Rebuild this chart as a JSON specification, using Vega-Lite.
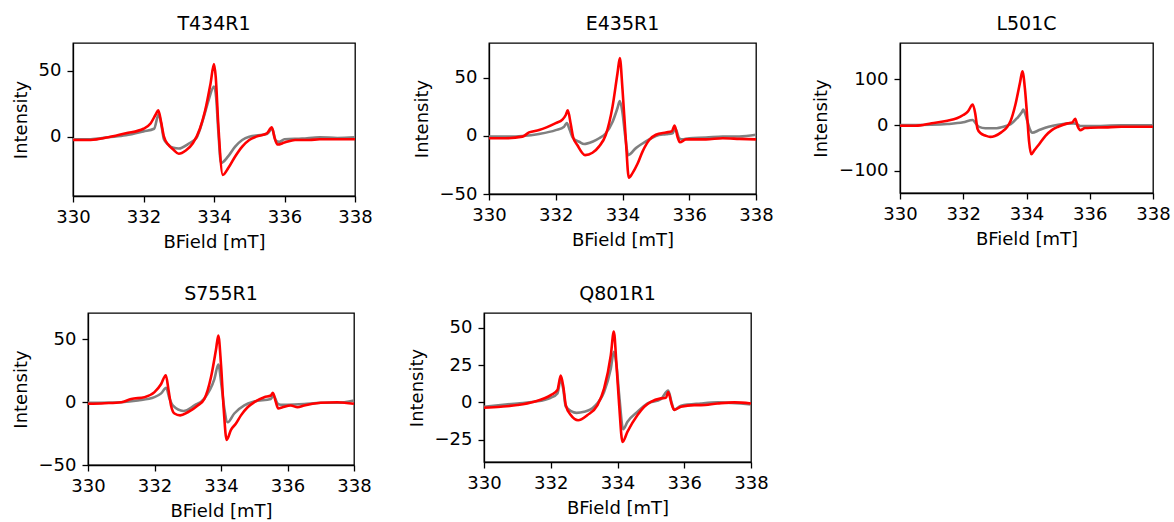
{
 "$schema": "https://vega.github.io/schema/vega-lite/v6.json",
 "padding": {"left": 11, "top": 14, "right": 2, "bottom": 0},
 "datasets": {"d": [
  {"p":"T434R1","s":"g","x":330,"y":-2},{"p":"T434R1","s":"g","x":330.5,"y":-2},{"p":"T434R1","s":"g","x":331,"y":-0.5},{"p":"T434R1","s":"g","x":331.5,"y":1},{"p":"T434R1","s":"g","x":332,"y":4},{"p":"T434R1","s":"g","x":332.3,"y":6},{"p":"T434R1","s":"g","x":332.43,"y":17},{"p":"T434R1","s":"g","x":332.5,"y":10},{"p":"T434R1","s":"g","x":332.58,"y":-2},{"p":"T434R1","s":"g","x":332.7,"y":-6},{"p":"T434R1","s":"g","x":332.85,"y":-8.5},{"p":"T434R1","s":"g","x":333.0,"y":-9},{"p":"T434R1","s":"g","x":333.3,"y":-5},{"p":"T434R1","s":"g","x":333.5,"y":-1},{"p":"T434R1","s":"g","x":333.7,"y":14},{"p":"T434R1","s":"g","x":333.85,"y":28},{"p":"T434R1","s":"g","x":334.0,"y":38},{"p":"T434R1","s":"g","x":334.06,"y":30},{"p":"T434R1","s":"g","x":334.12,"y":5},{"p":"T434R1","s":"g","x":334.2,"y":-20},{"p":"T434R1","s":"g","x":334.4,"y":-15},{"p":"T434R1","s":"g","x":334.6,"y":-7.5},{"p":"T434R1","s":"g","x":334.8,"y":-2.5},{"p":"T434R1","s":"g","x":335.0,"y":0},{"p":"T434R1","s":"g","x":335.5,"y":2},{"p":"T434R1","s":"g","x":335.65,"y":6},{"p":"T434R1","s":"g","x":335.75,"y":-3},{"p":"T434R1","s":"g","x":335.85,"y":-4},{"p":"T434R1","s":"g","x":336.0,"y":-2},{"p":"T434R1","s":"g","x":336.5,"y":-1.5},{"p":"T434R1","s":"g","x":337,"y":-0.5},{"p":"T434R1","s":"g","x":337.5,"y":-1},{"p":"T434R1","s":"g","x":338,"y":-0.5},
  {"p":"T434R1","s":"r","x":330,"y":-2.5},{"p":"T434R1","s":"r","x":330.5,"y":-2.5},{"p":"T434R1","s":"r","x":331,"y":-0.5},{"p":"T434R1","s":"r","x":331.5,"y":2.5},{"p":"T434R1","s":"r","x":332,"y":6},{"p":"T434R1","s":"r","x":332.2,"y":10},{"p":"T434R1","s":"r","x":332.35,"y":17},{"p":"T434R1","s":"r","x":332.42,"y":20},{"p":"T434R1","s":"r","x":332.5,"y":11},{"p":"T434R1","s":"r","x":332.58,"y":0},{"p":"T434R1","s":"r","x":332.7,"y":-6},{"p":"T434R1","s":"r","x":332.85,"y":-10},{"p":"T434R1","s":"r","x":333.0,"y":-13},{"p":"T434R1","s":"r","x":333.2,"y":-10.5},{"p":"T434R1","s":"r","x":333.4,"y":-5},{"p":"T434R1","s":"r","x":333.6,"y":6},{"p":"T434R1","s":"r","x":333.75,"y":20},{"p":"T434R1","s":"r","x":333.9,"y":40},{"p":"T434R1","s":"r","x":334.0,"y":55},{"p":"T434R1","s":"r","x":334.05,"y":45},{"p":"T434R1","s":"r","x":334.12,"y":10},{"p":"T434R1","s":"r","x":334.25,"y":-29},{"p":"T434R1","s":"r","x":334.4,"y":-24},{"p":"T434R1","s":"r","x":334.6,"y":-15},{"p":"T434R1","s":"r","x":334.8,"y":-7.5},{"p":"T434R1","s":"r","x":335.0,"y":-2.5},{"p":"T434R1","s":"r","x":335.2,"y":0},{"p":"T434R1","s":"r","x":335.5,"y":2.5},{"p":"T434R1","s":"r","x":335.64,"y":7},{"p":"T434R1","s":"r","x":335.72,"y":-1},{"p":"T434R1","s":"r","x":335.8,"y":-6},{"p":"T434R1","s":"r","x":336.0,"y":-4.5},{"p":"T434R1","s":"r","x":336.3,"y":-2.5},{"p":"T434R1","s":"r","x":336.7,"y":-2.5},{"p":"T434R1","s":"r","x":337,"y":-2},{"p":"T434R1","s":"r","x":337.5,"y":-2},{"p":"T434R1","s":"r","x":338,"y":-2},

  {"p":"E435R1","s":"g","x":330,"y":-0.5},{"p":"E435R1","s":"g","x":330.5,"y":-0.5},{"p":"E435R1","s":"g","x":331,"y":0},{"p":"E435R1","s":"g","x":331.5,"y":1.7},{"p":"E435R1","s":"g","x":332,"y":5},{"p":"E435R1","s":"g","x":332.25,"y":8},{"p":"E435R1","s":"g","x":332.33,"y":11},{"p":"E435R1","s":"g","x":332.42,"y":5},{"p":"E435R1","s":"g","x":332.52,"y":-2},{"p":"E435R1","s":"g","x":332.7,"y":-5},{"p":"E435R1","s":"g","x":332.85,"y":-7},{"p":"E435R1","s":"g","x":333.1,"y":-5},{"p":"E435R1","s":"g","x":333.3,"y":-2},{"p":"E435R1","s":"g","x":333.5,"y":2.3},{"p":"E435R1","s":"g","x":333.7,"y":12},{"p":"E435R1","s":"g","x":333.85,"y":24},{"p":"E435R1","s":"g","x":333.92,"y":30},{"p":"E435R1","s":"g","x":334.0,"y":20},{"p":"E435R1","s":"g","x":334.08,"y":0},{"p":"E435R1","s":"g","x":334.17,"y":-16.5},{"p":"E435R1","s":"g","x":334.4,"y":-10.5},{"p":"E435R1","s":"g","x":334.6,"y":-6.5},{"p":"E435R1","s":"g","x":334.8,"y":-3},{"p":"E435R1","s":"g","x":335.0,"y":0},{"p":"E435R1","s":"g","x":335.3,"y":1.5},{"p":"E435R1","s":"g","x":335.5,"y":2.3},{"p":"E435R1","s":"g","x":335.58,"y":6.5},{"p":"E435R1","s":"g","x":335.7,"y":-2},{"p":"E435R1","s":"g","x":335.78,"y":-3},{"p":"E435R1","s":"g","x":336.0,"y":-2},{"p":"E435R1","s":"g","x":336.5,"y":-1.5},{"p":"E435R1","s":"g","x":337,"y":-0.5},{"p":"E435R1","s":"g","x":337.5,"y":-0.5},{"p":"E435R1","s":"g","x":338,"y":1},
  {"p":"E435R1","s":"r","x":330,"y":-2},{"p":"E435R1","s":"r","x":330.5,"y":-2},{"p":"E435R1","s":"r","x":331,"y":-0.6},{"p":"E435R1","s":"r","x":331.2,"y":3},{"p":"E435R1","s":"r","x":331.5,"y":5},{"p":"E435R1","s":"r","x":332.0,"y":11},{"p":"E435R1","s":"r","x":332.2,"y":14},{"p":"E435R1","s":"r","x":332.3,"y":18},{"p":"E435R1","s":"r","x":332.36,"y":22},{"p":"E435R1","s":"r","x":332.45,"y":10},{"p":"E435R1","s":"r","x":332.52,"y":-1},{"p":"E435R1","s":"r","x":332.65,"y":-8},{"p":"E435R1","s":"r","x":332.88,"y":-16.5},{"p":"E435R1","s":"r","x":333.1,"y":-14.5},{"p":"E435R1","s":"r","x":333.3,"y":-9},{"p":"E435R1","s":"r","x":333.5,"y":1},{"p":"E435R1","s":"r","x":333.7,"y":25},{"p":"E435R1","s":"r","x":333.85,"y":54},{"p":"E435R1","s":"r","x":333.92,"y":67},{"p":"E435R1","s":"r","x":334.0,"y":40},{"p":"E435R1","s":"r","x":334.1,"y":-3.5},{"p":"E435R1","s":"r","x":334.19,"y":-36},{"p":"E435R1","s":"r","x":334.3,"y":-32},{"p":"E435R1","s":"r","x":334.45,"y":-24},{"p":"E435R1","s":"r","x":334.6,"y":-13.5},{"p":"E435R1","s":"r","x":334.8,"y":-3.5},{"p":"E435R1","s":"r","x":335.0,"y":1},{"p":"E435R1","s":"r","x":335.3,"y":3},{"p":"E435R1","s":"r","x":335.48,"y":4},{"p":"E435R1","s":"r","x":335.56,"y":9},{"p":"E435R1","s":"r","x":335.65,"y":-1},{"p":"E435R1","s":"r","x":335.72,"y":-5.5},{"p":"E435R1","s":"r","x":335.9,"y":-3},{"p":"E435R1","s":"r","x":336.5,"y":-3},{"p":"E435R1","s":"r","x":337,"y":-2},{"p":"E435R1","s":"r","x":337.5,"y":-2.5},{"p":"E435R1","s":"r","x":338,"y":-3},

  {"p":"L501C","s":"g","x":330,"y":0},{"p":"L501C","s":"g","x":331,"y":0.7},{"p":"L501C","s":"g","x":331.5,"y":2.2},{"p":"L501C","s":"g","x":332.0,"y":6},{"p":"L501C","s":"g","x":332.3,"y":11},{"p":"L501C","s":"g","x":332.4,"y":3},{"p":"L501C","s":"g","x":332.5,"y":-4},{"p":"L501C","s":"g","x":332.7,"y":-7},{"p":"L501C","s":"g","x":333.0,"y":-7},{"p":"L501C","s":"g","x":333.3,"y":-3},{"p":"L501C","s":"g","x":333.5,"y":2},{"p":"L501C","s":"g","x":333.7,"y":15},{"p":"L501C","s":"g","x":333.85,"y":28},{"p":"L501C","s":"g","x":333.9,"y":34},{"p":"L501C","s":"g","x":334.0,"y":15},{"p":"L501C","s":"g","x":334.1,"y":-8},{"p":"L501C","s":"g","x":334.18,"y":-17},{"p":"L501C","s":"g","x":334.4,"y":-11},{"p":"L501C","s":"g","x":334.7,"y":-3.7},{"p":"L501C","s":"g","x":335.0,"y":0.7},{"p":"L501C","s":"g","x":335.5,"y":3.7},{"p":"L501C","s":"g","x":335.6,"y":2},{"p":"L501C","s":"g","x":335.7,"y":-2},{"p":"L501C","s":"g","x":336.0,"y":-2.2},{"p":"L501C","s":"g","x":337,"y":-0.7},{"p":"L501C","s":"g","x":338,"y":-0.7},
  {"p":"L501C","s":"r","x":330,"y":-1.5},{"p":"L501C","s":"r","x":330.5,"y":-1.5},{"p":"L501C","s":"r","x":331,"y":4},{"p":"L501C","s":"r","x":331.5,"y":9.5},{"p":"L501C","s":"r","x":331.8,"y":15},{"p":"L501C","s":"r","x":332.0,"y":22},{"p":"L501C","s":"r","x":332.15,"y":30},{"p":"L501C","s":"r","x":332.3,"y":45},{"p":"L501C","s":"r","x":332.38,"y":25},{"p":"L501C","s":"r","x":332.45,"y":-8},{"p":"L501C","s":"r","x":332.55,"y":-18},{"p":"L501C","s":"r","x":332.7,"y":-23},{"p":"L501C","s":"r","x":332.85,"y":-26},{"p":"L501C","s":"r","x":333.0,"y":-24},{"p":"L501C","s":"r","x":333.2,"y":-16},{"p":"L501C","s":"r","x":333.4,"y":-3},{"p":"L501C","s":"r","x":333.5,"y":9.5},{"p":"L501C","s":"r","x":333.65,"y":45},{"p":"L501C","s":"r","x":333.8,"y":95},{"p":"L501C","s":"r","x":333.87,"y":118},{"p":"L501C","s":"r","x":333.95,"y":80},{"p":"L501C","s":"r","x":334.02,"y":20},{"p":"L501C","s":"r","x":334.08,"y":-35},{"p":"L501C","s":"r","x":334.15,"y":-64},{"p":"L501C","s":"r","x":334.25,"y":-55},{"p":"L501C","s":"r","x":334.4,"y":-42},{"p":"L501C","s":"r","x":334.6,"y":-23.5},{"p":"L501C","s":"r","x":334.8,"y":-11},{"p":"L501C","s":"r","x":335.0,"y":-3.7},{"p":"L501C","s":"r","x":335.3,"y":3.7},{"p":"L501C","s":"r","x":335.45,"y":6},{"p":"L501C","s":"r","x":335.54,"y":14},{"p":"L501C","s":"r","x":335.62,"y":-3},{"p":"L501C","s":"r","x":335.7,"y":-11},{"p":"L501C","s":"r","x":335.85,"y":-6.6},{"p":"L501C","s":"r","x":336.5,"y":-5},{"p":"L501C","s":"r","x":337,"y":-3.7},{"p":"L501C","s":"r","x":338,"y":-3.7},

  {"p":"S755R1","s":"g","x":330,"y":-0.5},{"p":"S755R1","s":"g","x":331,"y":0},{"p":"S755R1","s":"g","x":331.5,"y":1.3},{"p":"S755R1","s":"g","x":332.0,"y":4},{"p":"S755R1","s":"g","x":332.2,"y":7},{"p":"S755R1","s":"g","x":332.35,"y":11.4},{"p":"S755R1","s":"g","x":332.45,"y":3},{"p":"S755R1","s":"g","x":332.55,"y":-2.6},{"p":"S755R1","s":"g","x":332.87,"y":-7},{"p":"S755R1","s":"g","x":333.2,"y":-2.6},{"p":"S755R1","s":"g","x":333.5,"y":3},{"p":"S755R1","s":"g","x":333.8,"y":18.4},{"p":"S755R1","s":"g","x":333.92,"y":30},{"p":"S755R1","s":"g","x":334.02,"y":12},{"p":"S755R1","s":"g","x":334.1,"y":-5},{"p":"S755R1","s":"g","x":334.2,"y":-16},{"p":"S755R1","s":"g","x":334.4,"y":-9},{"p":"S755R1","s":"g","x":334.7,"y":-2.6},{"p":"S755R1","s":"g","x":335.0,"y":0.5},{"p":"S755R1","s":"g","x":335.5,"y":2.6},{"p":"S755R1","s":"g","x":335.58,"y":5.3},{"p":"S755R1","s":"g","x":335.7,"y":-1},{"p":"S755R1","s":"g","x":335.8,"y":-2},{"p":"S755R1","s":"g","x":336.0,"y":-2},{"p":"S755R1","s":"g","x":336.5,"y":-1.5},{"p":"S755R1","s":"g","x":337,"y":-0.5},{"p":"S755R1","s":"g","x":337.5,"y":-0.5},{"p":"S755R1","s":"g","x":338,"y":1.3},
  {"p":"S755R1","s":"r","x":330,"y":-1.3},{"p":"S755R1","s":"r","x":330.5,"y":-0.8},{"p":"S755R1","s":"r","x":331,"y":0},{"p":"S755R1","s":"r","x":331.3,"y":2.6},{"p":"S755R1","s":"r","x":331.7,"y":4},{"p":"S755R1","s":"r","x":332.0,"y":8},{"p":"S755R1","s":"r","x":332.2,"y":14.5},{"p":"S755R1","s":"r","x":332.34,"y":21.5},{"p":"S755R1","s":"r","x":332.42,"y":10},{"p":"S755R1","s":"r","x":332.5,"y":-3},{"p":"S755R1","s":"r","x":332.6,"y":-9},{"p":"S755R1","s":"r","x":332.77,"y":-10.5},{"p":"S755R1","s":"r","x":333.0,"y":-8},{"p":"S755R1","s":"r","x":333.3,"y":-2.6},{"p":"S755R1","s":"r","x":333.5,"y":2.6},{"p":"S755R1","s":"r","x":333.7,"y":20},{"p":"S755R1","s":"r","x":333.85,"y":42},{"p":"S755R1","s":"r","x":333.92,"y":53},{"p":"S755R1","s":"r","x":334.0,"y":30},{"p":"S755R1","s":"r","x":334.08,"y":-5},{"p":"S755R1","s":"r","x":334.17,"y":-30},{"p":"S755R1","s":"r","x":334.3,"y":-22},{"p":"S755R1","s":"r","x":334.45,"y":-17},{"p":"S755R1","s":"r","x":334.6,"y":-10.5},{"p":"S755R1","s":"r","x":334.8,"y":-4},{"p":"S755R1","s":"r","x":335.0,"y":0},{"p":"S755R1","s":"r","x":335.3,"y":4},{"p":"S755R1","s":"r","x":335.5,"y":5.3},{"p":"S755R1","s":"r","x":335.56,"y":7.4},{"p":"S755R1","s":"r","x":335.65,"y":0},{"p":"S755R1","s":"r","x":335.72,"y":-5},{"p":"S755R1","s":"r","x":335.85,"y":-4},{"p":"S755R1","s":"r","x":336.1,"y":-2.6},{"p":"S755R1","s":"r","x":336.3,"y":-4},{"p":"S755R1","s":"r","x":336.5,"y":-2.6},{"p":"S755R1","s":"r","x":337,"y":-0.5},{"p":"S755R1","s":"r","x":337.5,"y":0},{"p":"S755R1","s":"r","x":338,"y":-1.3},

  {"p":"Q801R1","s":"g","x":330,"y":-2.9},{"p":"Q801R1","s":"g","x":331,"y":-0.7},{"p":"Q801R1","s":"g","x":331.5,"y":0.4},{"p":"Q801R1","s":"g","x":332,"y":3.1},{"p":"Q801R1","s":"g","x":332.2,"y":6},{"p":"Q801R1","s":"g","x":332.3,"y":15.5},{"p":"Q801R1","s":"g","x":332.38,"y":8},{"p":"Q801R1","s":"g","x":332.45,"y":-2.9},{"p":"Q801R1","s":"g","x":332.77,"y":-7},{"p":"Q801R1","s":"g","x":333.0,"y":-6.3},{"p":"Q801R1","s":"g","x":333.3,"y":-2.9},{"p":"Q801R1","s":"g","x":333.6,"y":7.1},{"p":"Q801R1","s":"g","x":333.8,"y":22.8},{"p":"Q801R1","s":"g","x":333.89,"y":34},{"p":"Q801R1","s":"g","x":333.97,"y":25},{"p":"Q801R1","s":"g","x":334.05,"y":5},{"p":"Q801R1","s":"g","x":334.17,"y":-18},{"p":"Q801R1","s":"g","x":334.3,"y":-13},{"p":"Q801R1","s":"g","x":334.6,"y":-6.3},{"p":"Q801R1","s":"g","x":334.9,"y":-0.7},{"p":"Q801R1","s":"g","x":335.3,"y":2.2},{"p":"Q801R1","s":"g","x":335.52,"y":8},{"p":"Q801R1","s":"g","x":335.62,"y":0},{"p":"Q801R1","s":"g","x":335.7,"y":-5},{"p":"Q801R1","s":"g","x":335.9,"y":-2.2},{"p":"Q801R1","s":"g","x":336.5,"y":-0.7},{"p":"Q801R1","s":"g","x":337,"y":0},{"p":"Q801R1","s":"g","x":338,"y":-1.3},
  {"p":"Q801R1","s":"r","x":330,"y":-3.6},{"p":"Q801R1","s":"r","x":330.5,"y":-2.9},{"p":"Q801R1","s":"r","x":331,"y":-1.8},{"p":"Q801R1","s":"r","x":331.5,"y":0.4},{"p":"Q801R1","s":"r","x":332,"y":4.9},{"p":"Q801R1","s":"r","x":332.2,"y":8.3},{"p":"Q801R1","s":"r","x":332.3,"y":18},{"p":"Q801R1","s":"r","x":332.38,"y":10},{"p":"Q801R1","s":"r","x":332.45,"y":-1.8},{"p":"Q801R1","s":"r","x":332.6,"y":-8.5},{"p":"Q801R1","s":"r","x":332.82,"y":-12},{"p":"Q801R1","s":"r","x":333.1,"y":-8.5},{"p":"Q801R1","s":"r","x":333.4,"y":-1.8},{"p":"Q801R1","s":"r","x":333.6,"y":9.4},{"p":"Q801R1","s":"r","x":333.8,"y":31.7},{"p":"Q801R1","s":"r","x":333.89,"y":47.5},{"p":"Q801R1","s":"r","x":333.97,"y":25},{"p":"Q801R1","s":"r","x":334.05,"y":-1.8},{"p":"Q801R1","s":"r","x":334.15,"y":-26.5},{"p":"Q801R1","s":"r","x":334.3,"y":-19.6},{"p":"Q801R1","s":"r","x":334.6,"y":-8.5},{"p":"Q801R1","s":"r","x":334.8,"y":-2.9},{"p":"Q801R1","s":"r","x":335.0,"y":0.4},{"p":"Q801R1","s":"r","x":335.3,"y":2.7},{"p":"Q801R1","s":"r","x":335.45,"y":3.1},{"p":"Q801R1","s":"r","x":335.52,"y":7},{"p":"Q801R1","s":"r","x":335.62,"y":-1},{"p":"Q801R1","s":"r","x":335.7,"y":-5},{"p":"Q801R1","s":"r","x":335.9,"y":-2.9},{"p":"Q801R1","s":"r","x":336.3,"y":-1.8},{"p":"Q801R1","s":"r","x":336.5,"y":-1.8},{"p":"Q801R1","s":"r","x":337,"y":-0.7},{"p":"Q801R1","s":"r","x":337.5,"y":0},{"p":"Q801R1","s":"r","x":338,"y":-0.7}
 ]},
 "columns": 1,
 "spacing": 32,
 "concat": [
  {"hconcat": [
    {"title": "T434R1", "width": 282, "height": 153, "data": {"name": "d"},
     "transform": [{"filter": "datum.p == 'T434R1'"}],
     "encoding": {
      "x": {"field": "x", "type": "quantitative", "scale": {"domain": [330, 338], "nice": false}, "axis": {"values": [330, 332, 334, 336, 338], "title": "BField [mT]"}},
      "y": {"field": "y", "type": "quantitative", "scale": {"domain": [-45, 71], "nice": false, "zero": false}, "axis": {"values": [0, 50], "title": "Intensity"}}},
     "layer": [
      {"transform": [{"filter": "datum.s == 'g'"}], "mark": {"type": "line", "color": "#808080", "strokeWidth": 2.6, "interpolate": "monotone"}},
      {"transform": [{"filter": "datum.s == 'r'"}], "mark": {"type": "line", "color": "#ff0000", "strokeWidth": 2.6, "interpolate": "monotone"}}]},
    {"hconcat": [
      {"title": "E435R1", "width": 267, "height": 151, "data": {"name": "d"},
       "transform": [{"filter": "datum.p == 'E435R1'"}],
       "encoding": {
        "x": {"field": "x", "type": "quantitative", "scale": {"domain": [330, 338], "nice": false}, "axis": {"values": [330, 332, 334, 336, 338], "title": "BField [mT]"}},
        "y": {"field": "y", "type": "quantitative", "scale": {"domain": [-50, 80], "nice": false, "zero": false}, "axis": {"values": [-50, 0, 50], "title": "Intensity"}}},
       "layer": [
        {"transform": [{"filter": "datum.s == 'g'"}], "mark": {"type": "line", "color": "#808080", "strokeWidth": 2.6, "interpolate": "monotone"}},
        {"transform": [{"filter": "datum.s == 'r'"}], "mark": {"type": "line", "color": "#ff0000", "strokeWidth": 2.6, "interpolate": "monotone"}}]},
      {"title": "L501C", "width": 253, "height": 150, "data": {"name": "d"},
       "transform": [{"filter": "datum.p == 'L501C'"}],
       "encoding": {
        "x": {"field": "x", "type": "quantitative", "scale": {"domain": [330, 338], "nice": false}, "axis": {"values": [330, 332, 334, 336, 338], "title": "BField [mT]"}},
        "y": {"field": "y", "type": "quantitative", "scale": {"domain": [-149, 180], "nice": false, "zero": false}, "axis": {"values": [-100, 0, 100], "title": "Intensity"}}},
       "layer": [
        {"transform": [{"filter": "datum.s == 'g'"}], "mark": {"type": "line", "color": "#808080", "strokeWidth": 2.6, "interpolate": "monotone"}},
        {"transform": [{"filter": "datum.s == 'r'"}], "mark": {"type": "line", "color": "#ff0000", "strokeWidth": 2.6, "interpolate": "monotone"}}]}
     ], "spacing": 37}
  ], "spacing": 39},
  {"hconcat": [
    {"width": 1, "height": 1, "data": {"values": [{"v": 0}]}, "mark": {"type": "point", "opacity": 0, "size": 1}, "encoding": {}, "view": {"stroke": null}},
    {"hconcat": [
      {"title": "S755R1", "width": 266, "height": 152, "data": {"name": "d"},
       "transform": [{"filter": "datum.p == 'S755R1'"}],
       "encoding": {
        "x": {"field": "x", "type": "quantitative", "scale": {"domain": [330, 338], "nice": false}, "axis": {"values": [330, 332, 334, 336, 338], "title": "BField [mT]"}},
        "y": {"field": "y", "type": "quantitative", "scale": {"domain": [-50, 71], "nice": false, "zero": false}, "axis": {"values": [-50, 0, 50], "title": "Intensity"}}},
       "layer": [
        {"transform": [{"filter": "datum.s == 'g'"}], "mark": {"type": "line", "color": "#808080", "strokeWidth": 2.6, "interpolate": "monotone"}},
        {"transform": [{"filter": "datum.s == 'r'"}], "mark": {"type": "line", "color": "#ff0000", "strokeWidth": 2.6, "interpolate": "monotone"}}]},
      {"title": "Q801R1", "width": 267, "height": 149, "data": {"name": "d"},
       "transform": [{"filter": "datum.p == 'Q801R1'"}],
       "encoding": {
        "x": {"field": "x", "type": "quantitative", "scale": {"domain": [330, 338], "nice": false}, "axis": {"values": [330, 332, 334, 336, 338], "title": "BField [mT]"}},
        "y": {"field": "y", "type": "quantitative", "scale": {"domain": [-40, 60], "nice": false, "zero": false}, "axis": {"values": [-25, 0, 25, 50], "title": "Intensity"}}},
       "layer": [
        {"transform": [{"filter": "datum.s == 'g'"}], "mark": {"type": "line", "color": "#808080", "strokeWidth": 2.6, "interpolate": "monotone"}},
        {"transform": [{"filter": "datum.s == 'r'"}], "mark": {"type": "line", "color": "#ff0000", "strokeWidth": 2.6, "interpolate": "monotone"}}]}
    ], "spacing": 35}
  ], "spacing": -63}
 ],
 "config": {
  "font": "DejaVu Sans",
  "view": {"stroke": "#000000", "strokeWidth": 1.3},
  "axis": {"grid": false, "labelFlush": false, "labelOverlap": false, "domainColor": "#000000", "domainWidth": 1.3, "tickColor": "#000000", "tickWidth": 1.3, "tickSize": 6, "labelPadding": 6, "titlePadding": 8, "labelColor": "#000000", "titleColor": "#000000", "labelFontSize": 18, "titleFontSize": 18, "titleFontWeight": "normal", "labelFont": "DejaVu Sans", "titleFont": "DejaVu Sans"},
  "axisX": {"titlePadding": 7},
  "title": {"fontSize": 19, "fontWeight": "normal", "font": "DejaVu Sans", "color": "#000000", "offset": 9}
 }
}
